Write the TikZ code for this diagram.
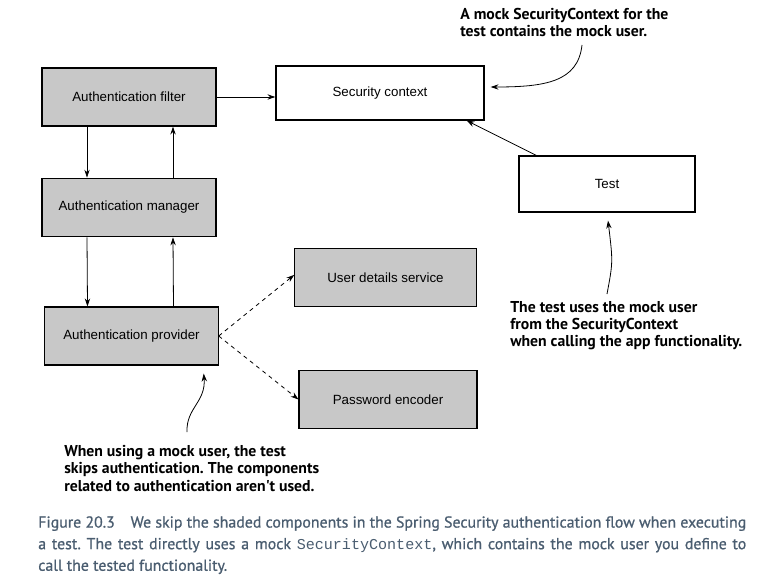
\documentclass[tikz,border=0pt]{standalone}
\usepackage{fontspec}
\setmainfont{Liberation Sans}
\newfontfamily\notefont{PT Sans}
\newfontfamily\capfont[FakeBold=0.8]{PT Sans}
\setmonofont{Liberation Mono}
\usetikzlibrary{arrows.meta}
\definecolor{boxgray}{HTML}{C8C8C8}
\definecolor{capblue}{HTML}{4A5D70}
\frenchspacing
\newcommand{\capline}[1]{\makebox[531pt][s]{#1}}

\begin{document}
\begin{tikzpicture}[x=0.75pt, y=-0.75pt,
		comp/.style={draw, line width=0.8pt, inner sep=0pt, font=\fontsize{10}{12}\selectfont},
		shaded/.style={comp, fill=boxgray},
		note/.style={anchor=north west, align=left, inner sep=0pt, font=\notefont\bfseries\fontsize{11.8}{13}\selectfont},
		arr/.style={line width=0.6pt, -{Stealth[length=6pt, width=4pt]}}]
		\useasboundingbox[fill=white] (0,0) rectangle (774,585);
		
		% components
		\node[shaded, minimum width=130.5pt, minimum height=43.5pt] (filt) at (129,97) {Authentication filter};
		\node[comp, minimum width=156pt, minimum height=40.5pt] (ctx) at (380,93) {Security context};
		\node[shaded, minimum width=130.5pt, minimum height=44pt] (mgr) at (129,207.5) {Authentication manager};
		\node[shaded, minimum width=130pt, minimum height=43.5pt] (prov) at (131.5,336) {Authentication provider};
		\node[shaded, minimum width=136pt, minimum height=44pt] (uds) at (385.5,277.5) {User details service};
		\node[shaded, minimum width=133.5pt, minimum height=43pt] (penc) at (388,399.5) {Password encoder};
		\node[comp, minimum width=132pt, minimum height=42pt] (test) at (607,184) {Test};
		
		% flow
		\draw[arr] (filt) -- (filt -| ctx.west);
		\draw[arr] ([xshift=-31.5pt]filt.south) -- ([xshift=-31.5pt]mgr.north);
		\draw[arr] ([xshift=33pt]mgr.north) -- ([xshift=33pt]filt.south);
		\draw[arr] ([xshift=-31.5pt]mgr.south) -- ([xshift=-33pt]prov.north);
		\draw[arr] ([xshift=31.5pt]prov.north) -- ([xshift=33pt]mgr.south);
		\draw[arr, dashed] (prov.east) -- ([yshift=2pt]uds.west);
		\draw[arr, dashed] (prov.east) -- (penc.west);
		\draw[arr] ([xshift=13.5pt]test.north west) -- ([xshift=-13.5pt]ctx.south east);
		
		% notes
		\node[note] (topnote) at (460,8) {A mock SecurityContext for the\\test contains the mock user.};
		\coordinate (topend) at (582,45);
		\draw[arr] (topend) .. controls (578,82) and (545,87) .. ([shift={(6,-6)}]ctx.east);
		
		\node[note] (testnote) at (510,301) {The test uses the mock user\\from the SecurityContext\\when calling the app functionality.};
		\coordinate (testend) at (607,294);
		\draw[arr] (testend) .. controls (613,262) .. ([shift={(1,8)}]test.south);
		
		\node[note] (provnote) at (64,445) {When using a mock user, the test\\skips authentication. The components\\related to authentication aren't used.};
		\coordinate (provend) at (187,432);
		\draw[arr] (provend) .. controls (186,408) and (206,402) .. ([shift={(-15,8)}]prov.south east);
		
		% caption
		\node[anchor=north west, inner sep=0pt, align=left, text=capblue, font=\capfont\fontsize{11.9}{16.2}\selectfont] (caption) at (38,516)
			{\capline{Figure 20.3\quad We skip the shaded components in the Spring Security authentication flow when executing}\\
			\capline{a test. The test directly uses a mock {\ttfamily\fontsize{11.3}{16}\selectfont SecurityContext}, which contains the mock user you define to}\\
			call the tested functionality.};
	\end{tikzpicture}
\end{document}
